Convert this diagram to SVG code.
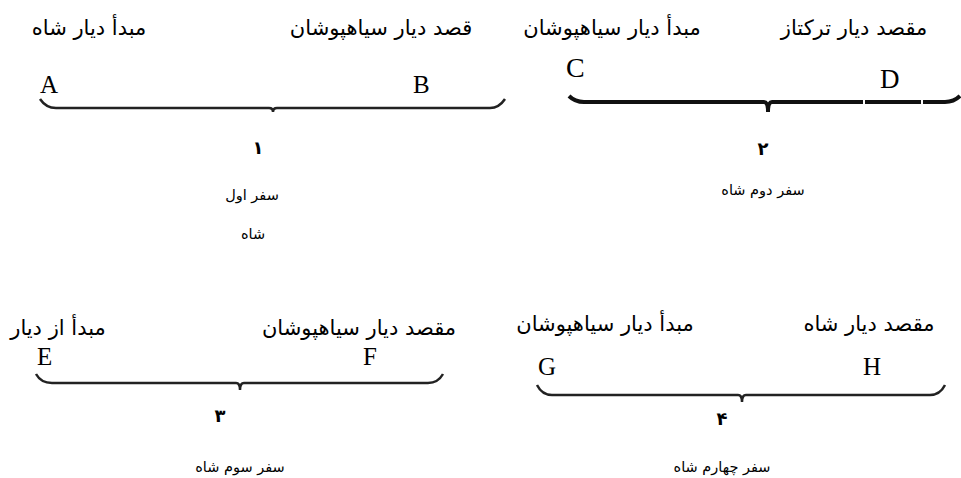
<svg xmlns="http://www.w3.org/2000/svg" width="961" height="478" viewBox="0 0 961 478">
<style>
.fa{font-family:"DejaVu Sans","Noto Sans",sans-serif;font-size:21px;fill:#000;text-anchor:middle}
.sm{font-family:"DejaVu Sans","Noto Sans",sans-serif;font-size:14.5px;fill:#000;text-anchor:middle}
.num{font-family:"DejaVu Sans","Noto Sans",sans-serif;font-size:18px;font-weight:bold;fill:#000;text-anchor:middle}
.lt{font-family:"Liberation Serif","Times New Roman",serif;font-size:25px;fill:#000}
.br{fill:none;stroke:#222;stroke-width:2.5;stroke-linecap:butt}
</style>
<rect width="961" height="478" fill="#fff"/>
<g id="connectors">
<path class="br" d="M40,99 Q46,108 56,108 L269,108 Q273,108 273,112 Q273,108 277,108 L490,108 Q499,108 505,99"/>
<path class="br" style="stroke:#111;stroke-width:4" d="M569,96 Q575,102 584,102 L764,102 Q768,102 768,112 Q768,102 772,102 L945,102 Q954,102 960,96"/>
<path class="br" d="M36,374 Q41,383 52,383 L236,383 Q240,383 240,390 Q240,383 244,383 L428,383 Q438,383 443,374"/>
<path class="br" d="M537,385 Q542,395 552,395 L738,395 Q742,395 742,402 Q742,395 746,395 L930,395 Q940,395 945,385"/>
<line x1="864" y1="98" x2="864" y2="106" stroke="#fff" stroke-width="2"/>
<line x1="922" y1="98" x2="922" y2="106" stroke="#fff" stroke-width="2"/>
</g>
<g id="n1">
<text class="fa" x="89" y="35">مبدأ دیار شاه</text>
<text class="fa" x="381" y="35">قصد دیار سیاهپوشان</text>
<text class="lt" x="40" y="93">A</text>
<text class="lt" x="413" y="93">B</text>
<text class="num" x="258" y="154">۱</text>
<text class="sm" x="252" y="200">سفر اول</text>
<text class="sm" x="253" y="239">شاه</text>
</g>
<g id="n2">
<text class="fa" x="612" y="35">مبدأ دیار سیاهپوشان</text>
<text class="fa" x="854" y="35">مقصد دیار ترکتاز</text>
<text class="lt" x="566" y="77" style="font-size:28px">C</text>
<text class="lt" x="880" y="88" style="font-size:27px">D</text>
<text class="num" x="763" y="155">۲</text>
<text class="sm" x="763" y="195">سفر دوم شاه</text>
</g>
<g id="n3">
<text class="fa" x="58" y="335">مبدأ از دیار</text>
<text class="fa" x="359" y="335">مقصد دیار سیاهپوشان</text>
<text class="lt" x="37" y="365">E</text>
<text class="lt" x="363" y="365">F</text>
<text class="num" x="220" y="422">۳</text>
<text class="sm" x="240" y="472">سفر سوم شاه</text>
</g>
<g id="n4">
<text class="fa" x="605" y="331">مبدأ دیار سیاهپوشان</text>
<text class="fa" x="869" y="331">مقصد دیار شاه</text>
<text class="lt" x="538" y="375">G</text>
<text class="lt" x="863" y="375">H</text>
<text class="num" x="722" y="425">۴</text>
<text class="sm" x="722" y="472">سفر چهارم شاه</text>
</g>
</svg>
